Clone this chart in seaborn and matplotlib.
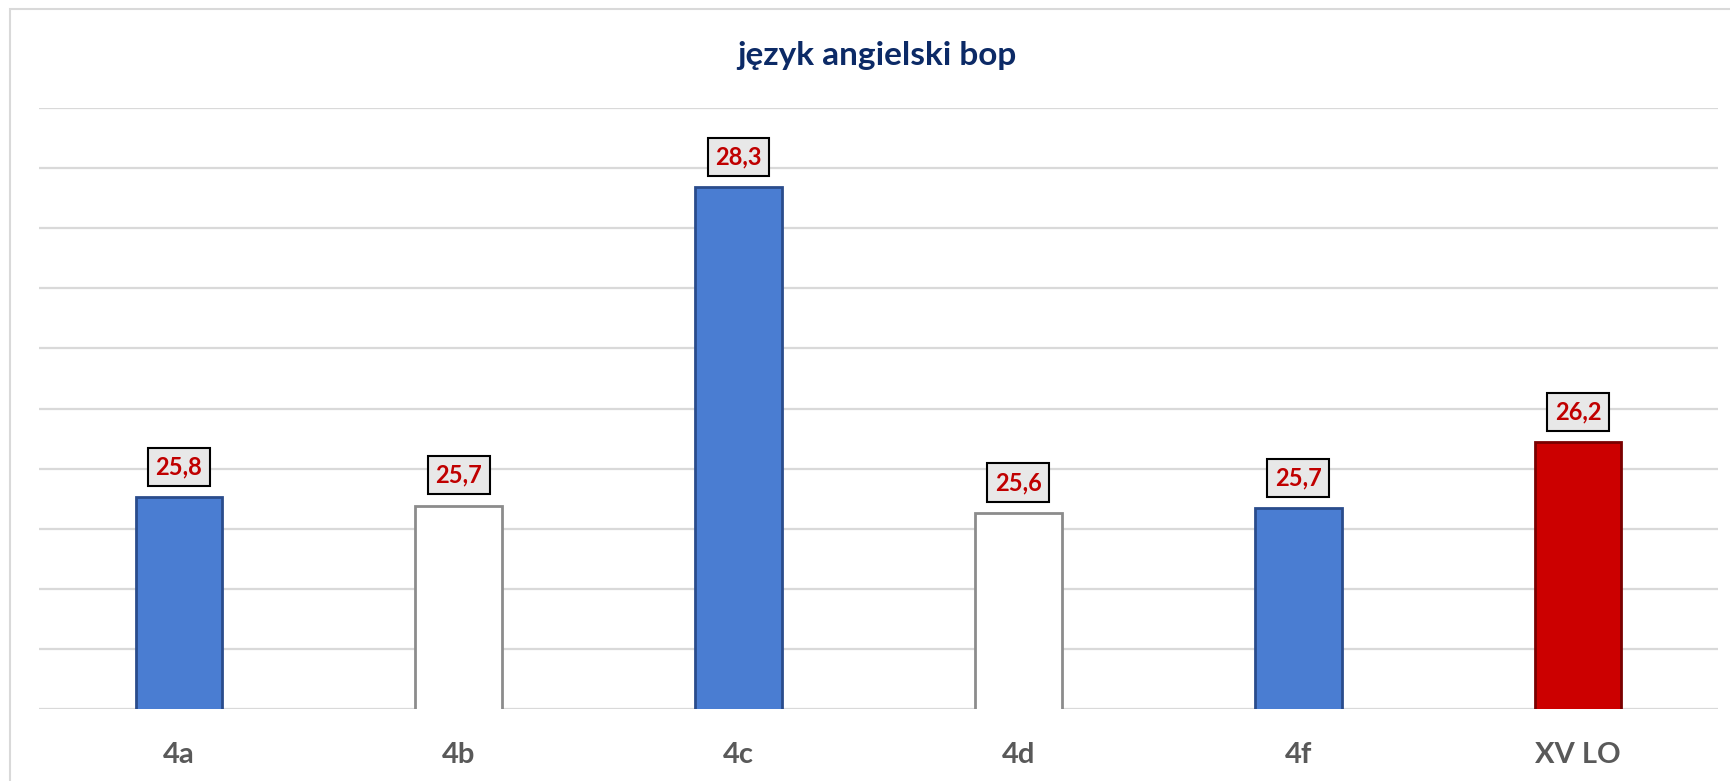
import matplotlib
matplotlib.use("Agg")
import matplotlib.pyplot as plt
import seaborn as sns
import pandas as pd
from matplotlib.patches import Rectangle

# data
classes = ["4a", "4b", "4c", "4d", "4f", "XV LO"]
scores = [25.76, 25.69, 28.34, 25.63, 25.67, 26.22]
bar_colors = ["#4A7DD2", "#FFFFFF", "#4A7DD2", "#FFFFFF", "#4A7DD2", "#CC0000"]
edge_colors = ["#2A4C8C", "#8C8C8C", "#2A4C8C", "#8C8C8C", "#2A4C8C", "#7A0000"]

df = pd.DataFrame({"klasa": classes, "wynik": scores})

sns.set_style("white")
plt.rcParams["font.family"] = ["Lato", "DejaVu Sans"]

fig = plt.figure(figsize=(17.31, 7.81), dpi=100)
ax = fig.add_axes([39 / 1731, 1 - 709 / 781, (1718 - 39) / 1731, (709 - 108) / 781])

sns.barplot(data=df, x="klasa", y="wynik", hue="klasa", palette=bar_colors,
            saturation=1, legend=False, width=0.31, ax=ax, zorder=3)

for patch, ec in zip(ax.patches, edge_colors):
    patch.set_edgecolor(ec)
    patch.set_linewidth(2)

ax.set_ylim(24, 29)
ax.set_yticks([24 + 0.5 * i for i in range(11)])
ax.yaxis.grid(True, color="#D9D9D9", linewidth=1.6, zorder=0)
ax.set_axisbelow(True)
ax.tick_params(axis="y", left=False, labelleft=False)
ax.tick_params(axis="x", bottom=False, pad=20)
for lbl in ax.get_xticklabels():
    lbl.set_fontsize(21)
    lbl.set_fontweight("bold")
    lbl.set_color("#595959")
ax.set_xlabel("")
ax.set_ylabel("")
ax.set_xlim(-0.5, len(classes) - 0.5)
sns.despine(ax=ax, left=True, bottom=True)

for i, v in enumerate(scores):
    ax.annotate(f"{v:.1f}".replace(".", ","), xy=(i, v), xytext=(0, 22),
                textcoords="offset points", ha="center", va="center",
                fontsize=17, fontweight="bold", color="#C00000", zorder=5,
                bbox=dict(boxstyle="square,pad=0.32", facecolor="#E8E8E8",
                          edgecolor="black", linewidth=1.5))

fig.text(877 / 1731, 1 - 55 / 781, "język angielski bop", ha="center", va="center",
         fontsize=24, fontweight="bold", color="#0C2A66")

# outer chart border
fig.add_artist(Rectangle((10 / 1731, -0.05), 1.2, 1 - 9 / 781 + 0.05,
                         transform=fig.transFigure, fill=False,
                         edgecolor="#D9D9D9", linewidth=1.5))

fig.savefig("out.png", dpi=100)
